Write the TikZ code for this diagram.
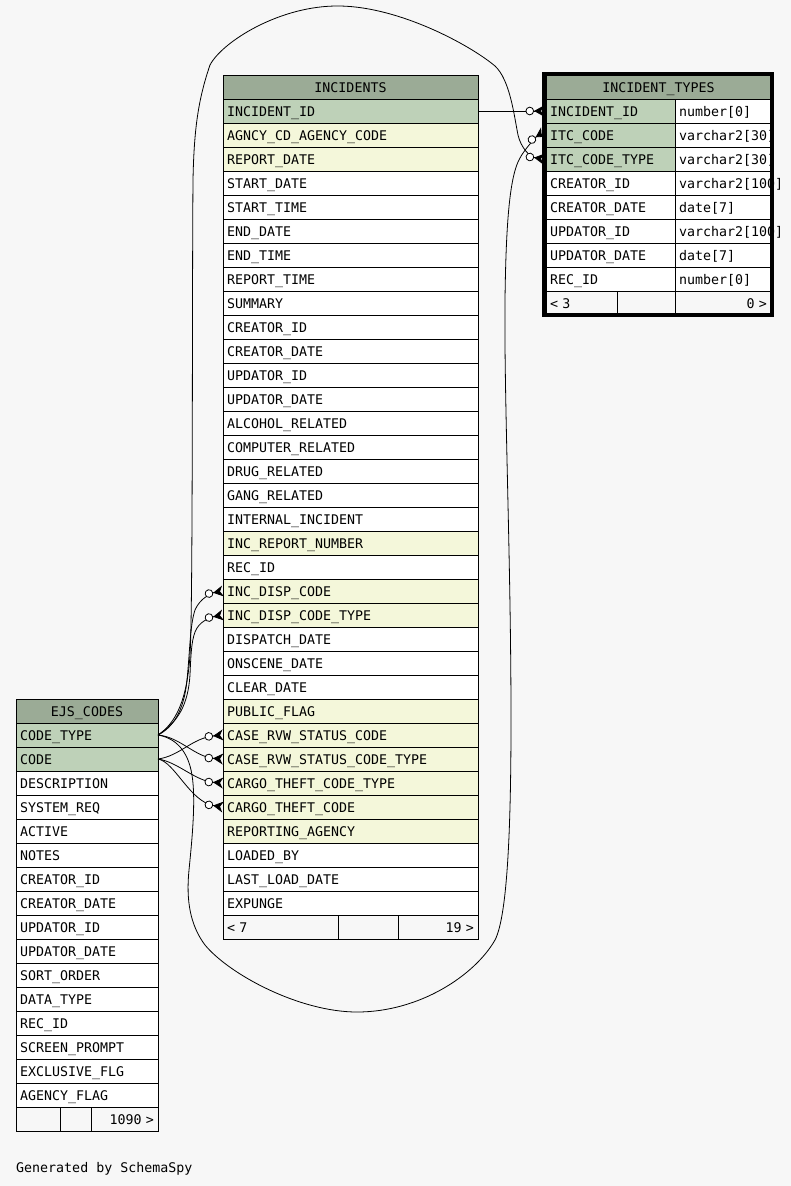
\documentclass[tikz,border=0pt]{standalone}
\usepackage{fontspec}
\newfontfamily\monofnt{DejaVu Sans Mono}
\usetikzlibrary{arrows.meta}
\definecolor{bgc}{HTML}{F7F7F7}
\definecolor{hdrc}{HTML}{9BAB96}
\definecolor{rowK}{HTML}{BED1B8}
\definecolor{rowF}{HTML}{F4F7DA}
\definecolor{rowW}{HTML}{FFFFFF}
\begin{document}
\begin{tikzpicture}[x=1pt,y=-1pt,
  tcell/.style={draw, line width=0.9pt, anchor=north west, outer sep=0pt,
    inner xsep=4pt, inner ysep=0pt, minimum height=24pt,
    text height=12pt, text depth=2pt, align=left,
    font=\monofnt\fontsize{13.3pt}{15pt}\selectfont},
  fkedge/.style={draw, line width=0.8pt,
    -{Circle[length=8.5pt,fill=white] Stealth[reversed,length=10pt,width=11pt,inset=3pt]}},
  txt/.style={font=\monofnt\fontsize{13.3pt}{15pt}\selectfont, inner sep=0pt}
]
\useasboundingbox (0,0) rectangle (791,1186);
\fill[bgc] (0,0) rectangle (791,1186);

% ---------------- INCIDENTS ----------------
\node[tcell, fill=hdrc, text width=247pt, align=center] (inchead) at (223,75) {INCIDENTS};
\foreach \t/\c [count=\i] in {
  INCIDENT\_ID/K, AGNCY\_CD\_AGENCY\_CODE/F, REPORT\_DATE/F, START\_DATE/W,
  START\_TIME/W, END\_DATE/W, END\_TIME/W, REPORT\_TIME/W, SUMMARY/W,
  CREATOR\_ID/W, CREATOR\_DATE/W, UPDATOR\_ID/W, UPDATOR\_DATE/W,
  ALCOHOL\_RELATED/W, COMPUTER\_RELATED/W, DRUG\_RELATED/W, GANG\_RELATED/W,
  INTERNAL\_INCIDENT/W, INC\_REPORT\_NUMBER/F, REC\_ID/W, INC\_DISP\_CODE/F,
  INC\_DISP\_CODE\_TYPE/F, DISPATCH\_DATE/W, ONSCENE\_DATE/W, CLEAR\_DATE/W,
  PUBLIC\_FLAG/F, CASE\_RVW\_STATUS\_CODE/F, CASE\_RVW\_STATUS\_CODE\_TYPE/F,
  CARGO\_THEFT\_CODE\_TYPE/F, CARGO\_THEFT\_CODE/F, REPORTING\_AGENCY/F,
  LOADED\_BY/W, LAST\_LOAD\_DATE/W, EXPUNGE/W}
  \node[tcell, fill=row\c, text width=247pt] (inc\i) at (223,{75+24*\i}) {\mbox{\t}};
\node[tcell, text width=107pt] (incf1) at (223,915) {< 7};
\node[tcell, text width=52pt] (incf2) at (338,915) {};
\node[tcell, text width=72pt, align=right] (incf3) at (398,915) {19 >};

% ---------------- INCIDENT_TYPES ----------------
\node[tcell, fill=hdrc, text width=217pt, align=center] (ithead) at (546,75) {INCIDENT\_TYPES};
\foreach \t/\c/\y [count=\i] in {
  INCIDENT\_ID/K/number[0], ITC\_CODE/K/varchar2[30], ITC\_CODE\_TYPE/K/varchar2[30],
  CREATOR\_ID/W/varchar2[100], CREATOR\_DATE/W/date[7], UPDATOR\_ID/W/varchar2[100],
  UPDATOR\_DATE/W/date[7], REC\_ID/W/number[0]}
{
  \node[tcell, fill=row\c, text width=121pt] (it\i) at (546,{75+24*\i}) {\mbox{\t}};
  \node[tcell, fill=rowW, text width=88pt] (itt\i) at (675,{75+24*\i}) {\mbox{\y}};
}
\node[tcell, text width=63pt] (itf1) at (546,291) {< 3};
\node[tcell, text width=50pt] (itf2) at (617,291) {};
\node[tcell, text width=88pt, align=right] (itf3) at (675,291) {0 >};

% ---------------- EJS_CODES ----------------
\node[tcell, fill=hdrc, text width=134pt, align=center] (ejshead) at (16,699) {EJS\_CODES};
\foreach \t/\c [count=\i] in {
  CODE\_TYPE/K, CODE/K, DESCRIPTION/W, SYSTEM\_REQ/W, ACTIVE/W, NOTES/W,
  CREATOR\_ID/W, CREATOR\_DATE/W, UPDATOR\_ID/W, UPDATOR\_DATE/W, SORT\_ORDER/W,
  DATA\_TYPE/W, REC\_ID/W, SCREEN\_PROMPT/W, EXCLUSIVE\_FLG/W, AGENCY\_FLAG/W}
  \node[tcell, fill=row\c, text width=134pt] (ejs\i) at (16,{699+24*\i}) {\mbox{\t}};
\node[tcell, text width=36pt] (ejsf1) at (16,1107) {};
\node[tcell, text width=23pt] (ejsf2) at (60,1107) {};
\node[tcell, text width=59pt, align=right] (ejsf3) at (91,1107) {1090 >};

% ---------------- connectors ----------------
\draw[fkedge] (inc1.east) -- ([xshift=-2pt]it1.west);

\draw[fkedge] (ejs1.east) .. controls (172,728) and (184,712) .. (187,680)
  .. controls (190,650) and (190,625) .. (195,610)
  .. controls (200,598) and (212,593) .. (inc21.west);
\draw[fkedge] (ejs1.east) .. controls (178,722) and (188,705) .. (190,675)
  .. controls (191,650) and (192,636) .. (197,628)
  .. controls (202,620) and (212,617) .. (inc22.west);

\draw[fkedge] (ejs1.east) .. controls (176,723) and (187,700) .. (190,655)
  .. controls (193,610) and (192,300) .. (193,180)
  .. controls (194,130) and (198,100) .. (210,65)
  .. controls (222,42) and (280,5) .. (340,6)
  .. controls (400,7) and (470,45) .. (495,66)
  .. controls (510,80) and (514,115) .. (518,135)
  .. controls (521,148) and (530,157) .. ([xshift=-2pt]it3.west);

\draw[fkedge] (ejs1.east) .. controls (175,738) and (188,750) .. (192,775)
  .. controls (196,800) and (192,840) .. (189,870)
  .. controls (186,900) and (190,925) .. (205,945)
  .. controls (230,975) and (300,1012) .. (357,1012)
  .. controls (420,1012) and (475,975) .. (495,940)
  .. controls (508,915) and (511,820) .. (511,720)
  .. controls (511,560) and (504,400) .. (505,300)
  .. controls (506,220) and (510,175) .. (520,158)
  .. controls (524,150) and (536,137) .. ([xshift=-2pt,yshift=3pt]it2.west);

\draw[fkedge] (ejs2.east) .. controls (180,756) and (192,738) .. (inc27.west);
\draw[fkedge] (ejs1.east) .. controls (180,737) and (195,757) .. (inc28.west);
\draw[fkedge] (ejs2.east) .. controls (178,762) and (195,781) .. (inc29.west);
\draw[fkedge] (ejs2.east) .. controls (175,762) and (190,802) .. (inc30.west);

% thick frame of INCIDENT_TYPES
\node[draw, line width=4pt, anchor=north west, outer sep=0pt, inner sep=0pt,
  minimum width=228pt, minimum height=241pt] (itframe) at (544,74) {};

\node[txt, anchor=base west] (gen) at (16,1172) {Generated by SchemaSpy};
\end{tikzpicture}
\end{document}
